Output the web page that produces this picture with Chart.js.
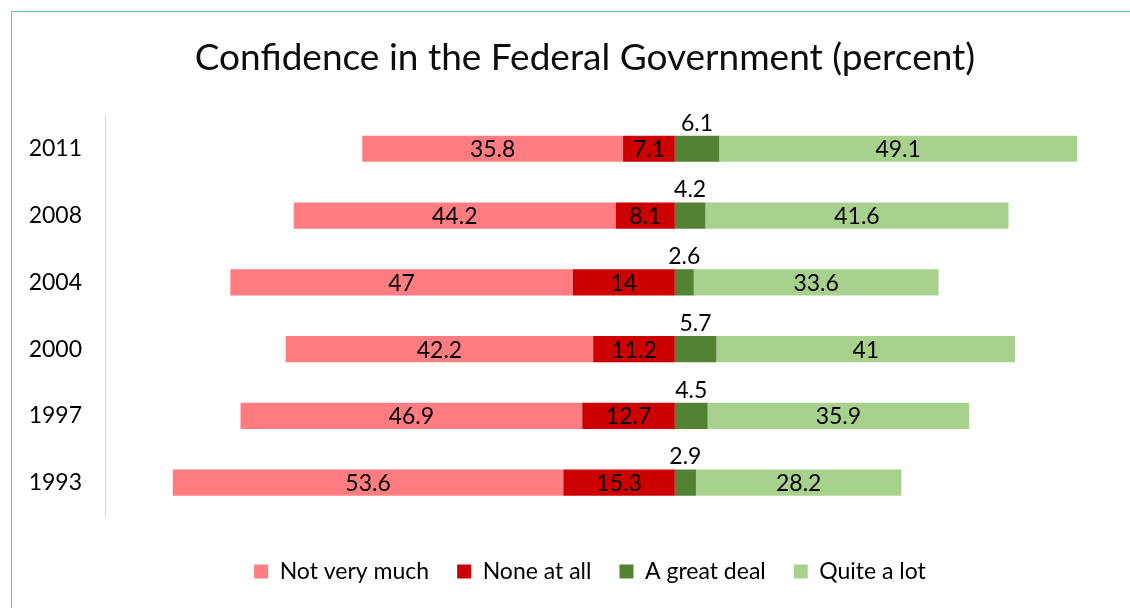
<!DOCTYPE html>
<html lang="en">
<head>
<meta charset="UTF-8">
<title>Confidence in the Federal Government</title>
<style>
    html, body { margin: 0; padding: 0; background: #ffffff; overflow: hidden; }
    /* the thin green frame of the original chart box */
    .frame {
        position: absolute;
        left: 11px;
        top: 11px;
        width: 1300px;
        height: 800px;
        border-left: 1px solid #6fc49a;
        border-top: 1px solid #6fc49a;
    }
    #chart { position: absolute; left: 0; top: 0; }
</style>
<script src="https://cdn.jsdelivr.net/npm/chart.js"></script>
</head>
<body>
<div class="frame"></div>
<canvas id="chart" width="1130" height="608"></canvas>
<script>
    // data (top row first)
    const years = ['2011', '2008', '2004', '2000', '1997', '1993'];
    const notVeryMuch = [35.8, 44.2, 47, 42.2, 46.9, 53.6];
    const noneAtAll = [7.1, 8.1, 14, 11.2, 12.7, 15.3];
    const greatDeal = [6.1, 4.2, 2.6, 5.7, 4.5, 2.9];
    const quiteALot = [49.1, 41.6, 33.6, 41, 35.9, 28.2];
    const legendOrder = ['Not very much', 'None at all', 'A great deal', 'Quite a lot'];

    const FONT = 'Lato';
    const LABEL_SIZE = 23;

    // value labels: inside the bars, "A great deal" above its bar
    const barLabels = {
        id: 'barLabels',
        afterDatasetsDraw(chart) {
            const ctx = chart.ctx;
            ctx.save();
            ctx.font = LABEL_SIZE + 'px ' + FONT;
            ctx.fillStyle = '#000000';
            ctx.textAlign = 'center';
            chart.data.datasets.forEach((ds, i) => {
                const meta = chart.getDatasetMeta(i);
                meta.data.forEach((bar, j) => {
                    const text = String(Math.abs(ds.data[j]));
                    const x = (bar.x + bar.base) / 2;
                    if (ds.label === 'A great deal') {
                        ctx.textBaseline = 'bottom';
                        ctx.fillText(text, x, bar.y - bar.height / 2 - 1);
                    } else {
                        ctx.textBaseline = 'middle';
                        ctx.fillText(text, x, bar.y + 1);
                    }
                });
            });
            ctx.restore();
        }
    };

    // nudge the title and legend to where they sit in the original
    const blockShift = {
        id: 'blockShift',
        afterLayout(chart) {
            chart.legend.left += 34;
            chart.legend.right += 34;
            chart.titleBlock.left += 29;
            chart.titleBlock.right += 29;
        }
    };

    const ctx = document.getElementById('chart').getContext('2d');
    new Chart(ctx, {
        type: 'bar',
        data: {
            labels: years,
            datasets: [
                { label: 'None at all', data: noneAtAll.map(v => -v), backgroundColor: '#cc0000' },
                { label: 'Not very much', data: notVeryMuch.map(v => -v), backgroundColor: '#ff7c80' },
                { label: 'A great deal', data: greatDeal, backgroundColor: '#548235' },
                { label: 'Quite a lot', data: quiteALot, backgroundColor: '#a9d18e' }
            ]
        },
        options: {
            indexAxis: 'y',
            responsive: false,
            animation: false,
            barPercentage: 0.8,
            categoryPercentage: 0.49,
            layout: { padding: { left: 0, right: 18, top: 0, bottom: 15 } },
            scales: {
                x: {
                    stacked: true,
                    min: -78.2,
                    max: 60,
                    grid: { display: false, drawTicks: false },
                    border: { display: false },
                    ticks: { display: false },
                    afterFit(scale) { scale.height = 16; }
                },
                y: {
                    stacked: true,
                    grid: { display: false, drawTicks: false },
                    border: { display: true, color: '#d9d9d9', width: 1 },
                    ticks: {
                        color: '#000000',
                        padding: 23,
                        font: { family: FONT, size: LABEL_SIZE }
                    },
                    afterFit(scale) { scale.width = 105; }
                }
            },
            plugins: {
                title: {
                    display: true,
                    text: 'Confidence in the Federal Government (percent)',
                    color: '#0d0d0d',
                    font: { family: FONT, size: 37, weight: 'normal', lineHeight: 1.2 },
                    padding: { top: 36, bottom: 35 }
                },
                legend: {
                    position: 'bottom',
                    labels: {
                        color: '#000000',
                        boxWidth: 14,
                        boxHeight: 14,
                        padding: 28,
                        font: { family: FONT, size: LABEL_SIZE },
                        sort: (a, b) => legendOrder.indexOf(a.text) - legendOrder.indexOf(b.text)
                    }
                },
                tooltip: { enabled: false }
            }
        },
        plugins: [barLabels, blockShift]
    });
</script>
</body>
</html>
